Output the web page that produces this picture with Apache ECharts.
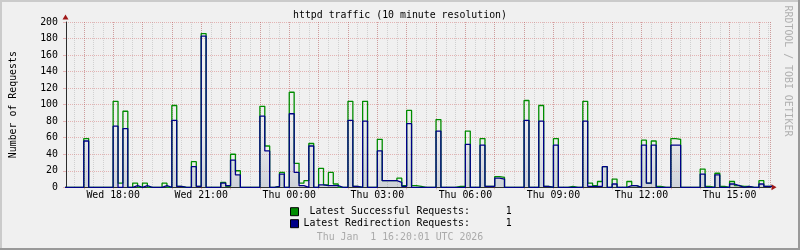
<!DOCTYPE html>
<html><head><meta charset="utf-8">
<script src="https://cdn.jsdelivr.net/npm/echarts@6/dist/echarts.min.js"></script>
<style>html,body{margin:0;padding:0;background:#f0f0f0}#c{width:800px;height:250px}</style>
</head><body><div id="c"></div>
<script>
const titleText = 'httpd traffic (10 minute resolution)';
const yAxisTitle = 'Number of Requests';
const watermarkText = 'RRDTOOL / TOBI OETIKER';
const timestampText = 'Thu Jan  1 16:20:01 UTC 2026';
const seriesNames = ['Latest Successful Requests:', 'Latest Redirection Requests:'];
const seriesColors = ['#008c00', '#000088'];
const dayNames = ['Sun', 'Mon', 'Tue', 'Wed', 'Thu', 'Fri', 'Sat'];
// 10-minute slots, first slot starts Wed 16:20 UTC
const firstSlotUTC = Date.UTC(2025, 11, 31, 16, 20);
const slotMs = 10 * 60 * 1000;
const viewStartUTC = Date.UTC(2025, 11, 31, 16, 23, 40);
const viewEndUTC = Date.UTC(2026, 0, 1, 16, 23, 40);
const yMin = 0, yMax = 200, yStep = 20;

const successful = [
  0, 0, 0, 0,
  59, 0, 0, 0, 0, 0,
  104, 5, 92, 0, 5, 0,
  5, 0, 0, 0, 5, 0,
  99, 1, 0, 0, 31, 1,
  186, 0, 0, 0, 6, 1,
  40, 20, 0, 0, 0, 0,
  98, 50, 0, 1, 18, 0,
  115, 29, 5, 8, 53, 0,
  23, 3, 18, 4, 0, 0,
  104, 1, 0, 104, 0, 0,
  58, 8, 8, 8, 11, 2,
  93, 2, 1, 0, 0, 0,
  82, 0, 0, 0, 1, 1,
  68, 0, 0, 59, 1, 1,
  13, 12, 0, 0, 0, 0,
  105, 0, 0, 99, 1, 0,
  59, 0, 0, 1, 0, 0,
  104, 5, 2, 7, 25, 0,
  10, 0, 0, 7, 2, 0,
  57, 5, 56, 1, 0, 0,
  59, 58, 0, 0, 0, 0,
  22, 1, 0, 17, 1, 0,
  7, 2, 1, 1, 0, 0,
  8, 1, 1
];
const redirection = [
  0, 0, 0, 0,
  56, 0, 0, 0, 0, 0,
  74, 0, 71, 0, 2, 0,
  2, 0, 0, 0, 2, 0,
  81, 1, 0, 0, 25, 1,
  183, 0, 0, 0, 5, 2,
  33, 15, 0, 0, 0, 0,
  86, 44, 0, 1, 16, 0,
  89, 18, 2, 0, 50, 0,
  3, 2, 2, 2, 0, 0,
  81, 1, 0, 80, 0, 0,
  44, 8, 8, 8, 6, 1,
  77, 0, 0, 0, 0, 0,
  68, 0, 0, 0, 0, 0,
  52, 0, 0, 51, 1, 1,
  11, 10, 0, 0, 0, 0,
  81, 0, 0, 80, 1, 0,
  51, 0, 0, 0, 0, 0,
  80, 1, 1, 1, 25, 0,
  4, 0, 0, 2, 2, 0,
  51, 5, 51, 0, 0, 0,
  51, 51, 0, 0, 0, 0,
  16, 0, 0, 15, 0, 0,
  4, 2, 0, 1, 0, 0,
  4, 1, 1
];

function toSteps(values) {
  const pts = values.map((v, i) => [firstSlotUTC + i * slotMs, v]);
  pts.push([firstSlotUTC + values.length * slotMs, values[values.length - 1]]);
  return pts;
}
const FONT = 'DejaVu Sans Mono';
const FS = 9.9;
const pad2 = n => String(n).padStart(2, '0');
function xLabel(v) {
  const d = new Date(v);
  if (d.getUTCMinutes() === 0 && d.getUTCHours() % 3 === 0) {
    return dayNames[d.getUTCDay()] + ' ' + pad2(d.getUTCHours()) + ':00';
  }
  return '';
}
const latest = [successful[successful.length - 1], redirection[redirection.length - 1]];
function legendText(name) {
  const i = seriesNames.indexOf(name);
  return name.padStart(28, ' ') + '      ' + latest[i];
}
const legendBase = {
  orient: 'horizontal', left: 290, icon: 'rect', itemWidth: 8, itemHeight: 8,
  padding: 0, itemGap: 0, selectedMode: false,
  itemStyle: { borderColor: '#000', borderWidth: 1 },
  textStyle: { fontFamily: FONT, fontSize: FS, color: '#000', lineHeight: 12 },
  formatter: legendText
};
const MGRID = 'rgba(200,50,50,0.32)';
const GRID = 'rgba(140,140,140,0.32)';

const chart = echarts.init(document.getElementById('c'), null, { renderer: 'canvas' });
chart.setOption({
  useUTC: true,
  animation: false,
  backgroundColor: '#f0f0f0',
  title: [
    { text: titleText, left: 'center', top: 9.5, padding: 0,
      textStyle: { fontFamily: FONT, fontSize: FS, fontWeight: 'normal', color: '#000', lineHeight: 12 } },
    { text: timestampText, left: 'center', top: 231.5, padding: 0,
      textStyle: { fontFamily: FONT, fontSize: FS, fontWeight: 'normal', color: '#aaaaaa', lineHeight: 12 } }
  ],
  legend: [
    Object.assign({}, legendBase, { data: [seriesNames[0]], top: 205.7 }),
    Object.assign({}, legendBase, { data: [seriesNames[1]], top: 217.7 })
  ],
  grid: { left: 65.5, top: 22, width: 705, height: 165.3, containLabel: false },
  xAxis: [
    { type: 'time', min: viewStartUTC, max: viewEndUTC, minInterval: 1800000, maxInterval: 1800000,
      axisLine: { show: false }, axisTick: { show: false }, axisLabel: { show: false },
      splitLine: { show: true, lineStyle: { color: GRID, type: [1, 1], width: 1 } } },
    { type: 'time', min: viewStartUTC, max: viewEndUTC, minInterval: 3600000, maxInterval: 3600000,
      position: 'bottom',
      axisLine: { show: true, onZero: false, lineStyle: { color: '#2c2c2c', width: 1 } },
      axisTick: { show: true, length: 2, lineStyle: { color: MGRID } },
      axisLabel: { formatter: xLabel, margin: 3.5, fontFamily: FONT, fontSize: FS, color: '#000',
        showMinLabel: false, showMaxLabel: false, hideOverlap: false },
      splitLine: { show: true, lineStyle: { color: MGRID, type: [1, 1], width: 1 } } }
  ],
  yAxis: {
    type: 'value', min: yMin, max: yMax, interval: yStep,
    name: yAxisTitle, nameLocation: 'middle', nameRotate: 90, nameGap: 48,
    nameTextStyle: { fontFamily: FONT, fontSize: FS, color: '#000' },
    axisLine: { show: true, lineStyle: { color: '#2c2c2c', width: 1 } },
    axisTick: { show: true, length: 3, lineStyle: { color: MGRID } },
    axisLabel: { margin: 8, fontFamily: FONT, fontSize: FS, color: '#000' },
    splitLine: { show: true, lineStyle: { color: MGRID, type: [1, 1], width: 1 } }
  },
  series: [
    { type: 'line', name: seriesNames[0], xAxisIndex: 1, data: toSteps(successful), step: 'end',
      symbol: 'none', color: seriesColors[0], lineStyle: { color: seriesColors[0], width: 1.3 }, z: 3 },
    { type: 'line', name: seriesNames[1], xAxisIndex: 1, data: toSteps(redirection), step: 'end',
      symbol: 'none', color: seriesColors[1], lineStyle: { color: seriesColors[1], width: 1.3 }, z: 4,
      areaStyle: { origin: 'start', color: new echarts.graphic.LinearGradient(0, 0, 0, 1, [
        { offset: 0, color: 'rgba(255,255,255,0)' },
        { offset: 0.6, color: 'rgba(120,135,160,0.06)' },
        { offset: 1, color: 'rgba(80,100,130,0.3)' }
      ]) } }
  ],
  graphic: [
    { type: 'rect', shape: { x: 0, y: 0, width: 800, height: 2 }, style: { fill: '#cbcbcb' }, silent: true },
    { type: 'rect', shape: { x: 0, y: 0, width: 2, height: 250 }, style: { fill: '#cbcbcb' }, silent: true },
    { type: 'rect', shape: { x: 0, y: 248, width: 800, height: 2 }, style: { fill: '#999999' }, silent: true },
    { type: 'rect', shape: { x: 798, y: 0, width: 2, height: 250 }, style: { fill: '#999999' }, silent: true },
    { type: 'polygon', shape: { points: [[62.5, 19.5], [68.5, 19.5], [65.5, 14.5]] }, style: { fill: '#a01818' }, silent: true },
    { type: 'polygon', shape: { points: [[771.5, 184.3], [771.5, 190.3], [776.5, 187.3]] }, style: { fill: '#a01818' }, silent: true },
    { type: 'text', x: 787.5, y: 71, rotation: -Math.PI / 2, silent: true,
      style: { text: watermarkText, fontFamily: FONT, fontSize: FS, fill: '#b0b0b0', align: 'center', verticalAlign: 'middle' } }
  ]
});
</script></body></html>
